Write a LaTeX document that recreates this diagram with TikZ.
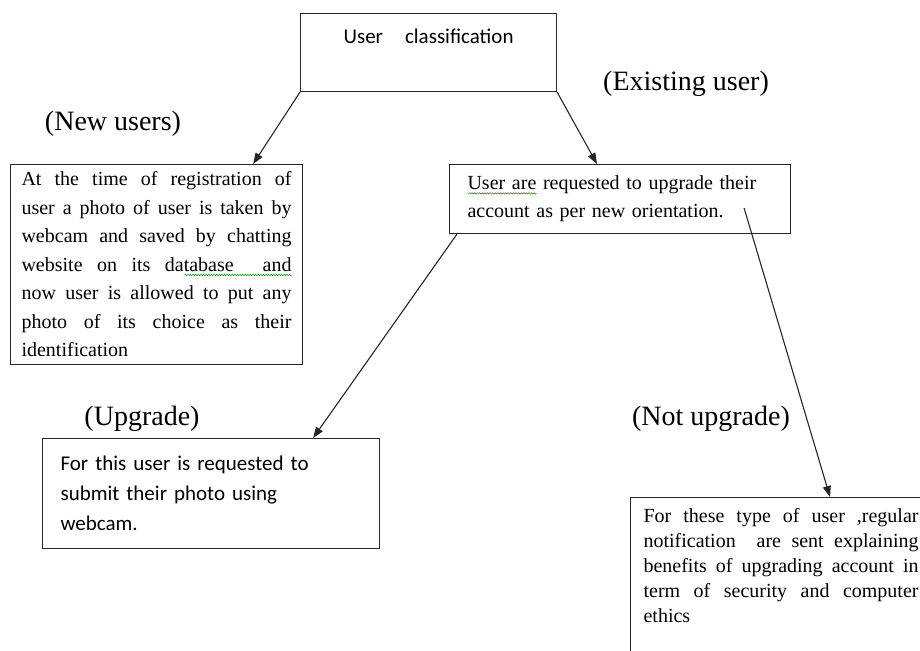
\documentclass[tikz,border=0pt]{standalone}
\usepackage{fontspec}
\setmainfont{Liberation Serif}
\newfontfamily\sansfont{Carlito}
\usetikzlibrary{arrows.meta,decorations.pathmorphing}

% green spell-check wave under a word
\newlength\spellwd
\newcommand{\spellmark}[1]{\settowidth{\spellwd}{#1}#1\tikz[overlay]{\draw[green!55!black,line width=0.5pt,
    decoration={snake,amplitude=0.7pt,segment length=2.6pt},decorate] (0pt,-3.5pt) -- ++(-\spellwd,0pt);}}

\begin{document}
\begin{tikzpicture}[x=1pt,y=-1pt,
    box/.style={draw=black!85,line width=1.1pt,anchor=north west},
    flow/.style={draw=black!85,line width=1.1pt,-{Triangle[length=11pt,width=8pt]}},
    caselabel/.style={anchor=base,inner sep=0pt,font=\fontsize{28}{32}\selectfont}]
  \useasboundingbox (0,0) rectangle (920,650);
  % top box
  \node[box,minimum width=256pt,inner ysep=0pt,text height=30pt,text depth=48pt,
        font=\sansfont\fontsize{21}{24}\selectfont] (classify) at (300,13)
        {User\hspace{22pt}classification};
  % branch labels
  \node[caselabel] (newlabel) at (113,131) {(New users)};
  \node[caselabel] (oldlabel) at (686,91) {(Existing user)};
  \node[caselabel] (uplabel) at (142,425) {(Upgrade)};
  \node[caselabel] (notlabel) at (711,425) {(Not upgrade)};
  % boxes
  \node[box,text width=270pt,inner xsep=11pt,minimum height=200pt,align=justify,
        font=\fontsize{20}{28.5}\selectfont] (newbox) at (10,164)
        {At the time of registration of\linebreak
         user a photo of user is taken by\linebreak
         webcam and saved by chatting\linebreak
         website on its \spellmark{database\ \ and}\linebreak
         now user is allowed to put any\linebreak
         photo of its choice as their\linebreak
         identification};
  \node[box,text width=305pt,inner xsep=18pt,minimum height=69pt,align=left,
        font=\fontsize{20}{28}\selectfont] (exist) at (449,164)
        {\spellmark{User are} requested to upgrade their\\
         account as per new orientation.};
  \node[box,text width=301pt,inner xsep=18pt,minimum height=110pt,align=left,
        font=\sansfont\fontsize{21}{30}\selectfont] (upgrade) at (42,438)
        {For this user is requested to\\
         submit their photo using\\
         webcam.};
  \node[box,inner xsep=13pt,inner ysep=11pt] (notbox) at (630,497)
        {\parbox[t][170pt][t]{275pt}{\fontsize{20}{25}\selectfont
         For these type of user ,regular\linebreak
         notification\ \ are sent explaining\linebreak
         benefits of upgrading account in\linebreak
         term of security and computer\linebreak
         ethics}};
  % connectors
  \draw[flow] (classify.south west) -- ([xshift=-50pt]newbox.north east);
  \draw[flow] (classify.south east) -- ([xshift=148pt]exist.north west);
  \draw[flow] ([xshift=8pt]exist.south west) -- ([xshift=-67pt]upgrade.north east);
  \draw[flow] ([xshift=-47pt,yshift=26pt]exist.south east) -- ([xshift=200pt]notbox.north west);
\end{tikzpicture}
\end{document}
